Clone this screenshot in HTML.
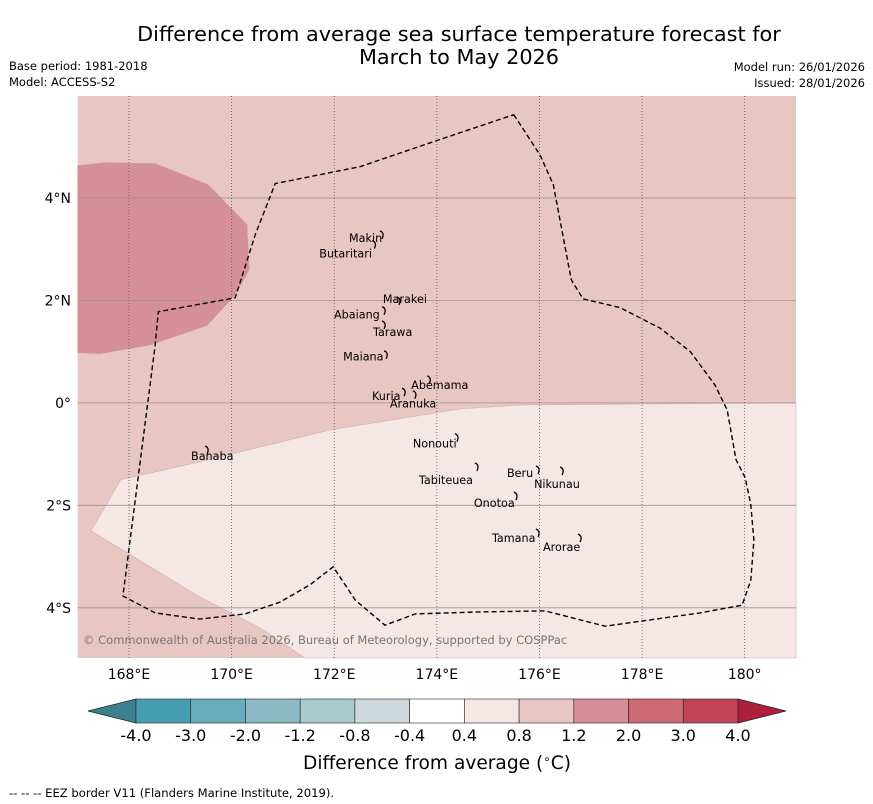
<!DOCTYPE html>
<html><head><meta charset="utf-8"><style>
body{margin:0;background:#fff;width:873px;height:804px;overflow:hidden;font-family:"Liberation Sans","DejaVu Sans",sans-serif}
svg{position:absolute;left:0;top:0}
</style></head><body>
<svg width="873" height="804" xmlns="http://www.w3.org/2000/svg" font-family="DejaVu Sans, Liberation Sans, sans-serif">
<text x="459" y="41" font-size="20.8" text-anchor="middle">Difference from average sea surface temperature forecast for</text>
<text x="459" y="64" font-size="20.8" text-anchor="middle">March to May 2026</text>
<text x="9" y="70" font-size="11.5">Base period: 1981-2018</text>
<text x="9" y="86" font-size="11.5">Model: ACCESS-S2</text>
<text x="865" y="71" font-size="11.5" text-anchor="end">Model run: 26/01/2026</text>
<text x="865" y="87" font-size="11.5" text-anchor="end">Issued: 28/01/2026</text>
<g id="map"></g>
<g id="cbar"></g>
<text x="437" y="769" font-size="18.6" text-anchor="middle">Difference from average (<tspan font-size="12" dy="-6">∘</tspan><tspan dy="6">C)</tspan></text>
<text x="9" y="797" font-size="11.6">--  --  -- EEZ border V11 (Flanders Marine Institute, 2019).</text>
</svg>
<script>
const lonTicks=[168,170,172,174,176,178,180];
const latTicks=[4,2,0,-2,-4];
const lonTickLabels=["168°E","170°E","172°E","174°E","176°E","178°E","180°"];
const latTickLabels=["4°N","2°N","0°","2°S","4°S"];
const levels=["-4.0","-3.0","-2.0","-1.2","-0.8","-0.4","0.4","0.8","1.2","2.0","3.0","4.0"];
const binColors=["#459fb0","#67adbb","#8bbac4","#a9c9cd","#cdd9da","#ffffff","#f5e7e6","#e8c6c1","#d68f96","#cc6b75","#c04453"];
const underColor="#3b808d", overColor="#ae1f3b";
const warmBlobLon=[167,167.53,168.51,169.54,170.30,170.34,170.07,169.52,168.41,167.43,167];
const warmBlobLat=[4.63,4.69,4.67,4.26,3.48,2.60,2.11,1.51,1.13,0.96,0.98];
const coolLon=[167.84,169.38,171.92,174.45,175.62,181,181,171.43,170.55,169.38,167.26];
const coolLat=[-1.50,-1.15,-0.53,-0.12,-0.04,0,-4.98,-4.98,-4.39,-3.79,-2.5];
const eezLon=[175.50,176.01,176.27,176.62,176.85,177.57,178.35,178.94,179.42,179.66,179.83,180.01,180.12,180.18,180.12,179.95,179.13,177.28,176.11,174.84,173.58,172.99,172.41,171.98,171.53,170.94,170.26,169.38,168.51,167.88,168.51,168.57,170.07,170.46,170.85,172.50,174.06,175.50];
const eezLat=[5.625,4.84,4.26,2.40,2.03,1.86,1.46,1.00,0.35,-0.14,-1.11,-1.46,-1.99,-2.68,-3.46,-3.95,-4.10,-4.36,-4.06,-4.08,-4.12,-4.34,-3.85,-3.20,-3.55,-3.89,-4.12,-4.22,-4.10,-3.77,1.13,1.78,2.05,3.28,4.28,4.61,5.14,5.625];
const islandNames=["Makin","Butaritari","Marakei","Abaiang","Tarawa","Maiana","Abemama","Kuria","Aranuka","Nonouti","Banaba","Beru","Nikunau","Tabiteuea","Onotoa","Tamana","Arorae"];
const islandLon=[172.95,172.80,173.28,172.99,172.99,173.03,173.87,173.38,173.59,174.41,169.54,175.99,176.46,174.80,175.56,175.99,176.81];
const islandLat=[3.28,3.09,1.99,1.80,1.52,0.94,0.45,0.21,0.16,-0.68,-0.92,-1.31,-1.33,-1.25,-1.82,-2.54,-2.64];
const labelDx=[-34,-56,-17,-51,-12,-44,-19,-33,-26,-45,-17,-32,-29,-59,-43,-47,-38];
const labelDy=[7,13,2,8,11,6,9,8,13,10,10,7,17,17,11,9,13];

const X0=77.7,X1=796,L0=167,L1=181,Y0=96,Y1=658,T0=5.99,T1=-4.98;
const x=lon=>X0+(lon-L0)/(L1-L0)*(X1-X0);
const y=lat=>Y0+(lat-T0)/(T1-T0)*(Y1-Y0);
const NS="http://www.w3.org/2000/svg";
function mk(tag,attrs,parent){const e=document.createElementNS(NS,tag);for(const k in attrs)e.setAttribute(k,attrs[k]);parent.appendChild(e);return e;}
const map=document.getElementById('map');
function poly(lons,lats){return lons.map((l,i)=>x(l).toFixed(1)+","+y(lats[i]).toFixed(1)).join(" ");}
let bg=mk('rect',{x:X0,y:Y0,width:X1-X0,height:Y1-Y0,fill:binColors[7]},map);


let wb=mk('polygon',{points:poly(warmBlobLon,warmBlobLat),fill:binColors[8],stroke:"#c9a0a3","stroke-width":0.6},map);


let cr=mk('polygon',{points:poly(coolLon,coolLat),fill:binColors[6],stroke:"#cfb0ad","stroke-width":0.6},map);


latTicks.forEach((t,i)=>{
 let g=mk('line',{x1:X0,x2:X1,y1:y(t),y2:y(t),stroke:"#a09090","stroke-width":0.8},map);
 
 
 let tx=mk('text',{x:71,y:y(t)+5,"font-size":14,"text-anchor":"end"},map);tx.textContent=latTickLabels[i];
 
 
});
lonTicks.forEach((t,i)=>{
 let g=mk('line',{x1:x(t),x2:x(t),y1:Y0,y2:Y1,stroke:"#555","stroke-width":0.8,"stroke-dasharray":"1,2"},map);
 
 
 let tx=mk('text',{x:x(t),y:679,"font-size":14,"text-anchor":"middle"},map);tx.textContent=lonTickLabels[i];
 
 
});
let eez=mk('polyline',{points:poly(eezLon,eezLat),fill:"none",stroke:"#000","stroke-width":1.4,"stroke-dasharray":"5,3"},map);


islandNames.forEach((n,i)=>{
 const px=x(islandLon[i]),py=y(islandLat[i]);
 let m=mk('path',{d:`M${px-3},${py-4} q5,2 2,8`,fill:"none",stroke:"#000","stroke-width":1.3},map);
 
 
 let t=mk('text',{x:px+labelDx[i],y:py+labelDy[i],"font-size":11.2},map);t.textContent=n;
 
 
});
let cp=mk('text',{x:83,y:644,"font-size":11.5,fill:"#777"},map);cp.textContent="© Commonwealth of Australia 2026, Bureau of Meteorology, supported by COSPPac";



const cb=document.getElementById('cbar');
const CB0=136,CB1=738,CT=699,CBH=24;
const cx=i=>CB0+i*(CB1-CB0)/binColors.length;
let ua=mk('polygon',{points:`88,${CT+CBH/2} ${CB0},${CT} ${CB0},${CT+CBH}`,fill:underColor,stroke:"#222","stroke-width":0.8},cb);


let oa=mk('polygon',{points:`786,${CT+CBH/2} ${CB1},${CT} ${CB1},${CT+CBH}`,fill:overColor,stroke:"#222","stroke-width":0.8},cb);


binColors.forEach((c,i)=>{
 let r=mk('rect',{x:cx(i),y:CT,width:cx(i+1)-cx(i),height:CBH,fill:c,stroke:"#222","stroke-width":0.6},cb);
 
 
});
levels.forEach((l,i)=>{
 let t=mk('text',{x:cx(i),y:741,"font-size":16,"text-anchor":"middle"},cb);t.textContent=l;
 
 
});
</script>
</body></html>
